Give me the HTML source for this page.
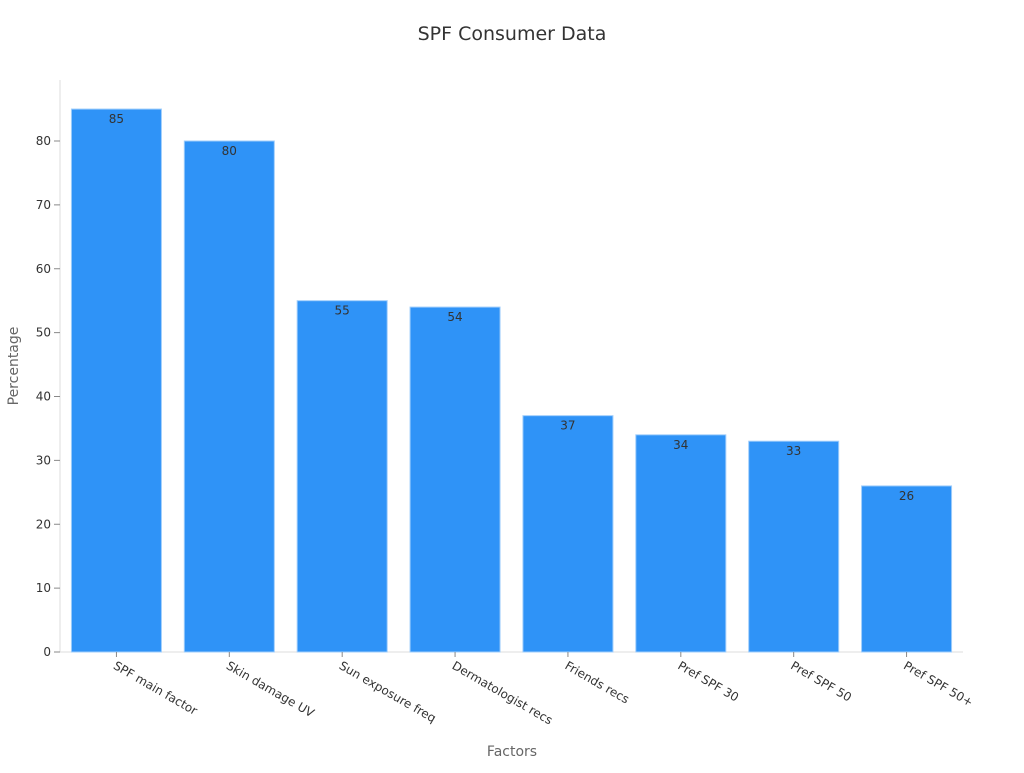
<!DOCTYPE html>
<html><head><meta charset="utf-8"><style>
body{margin:0;background:#fff;}
svg{font-family:"DejaVu Sans","Liberation Sans",sans-serif;}
</style></head><body>
<svg id="chart" width="1024" height="768">
<text x="512" y="40" text-anchor="middle" font-size="19" fill="#333">SPF Consumer Data</text>
<text x="512" y="756" text-anchor="middle" font-size="14" fill="#666">Factors</text>
<text transform="translate(18,366) rotate(-90)" text-anchor="middle" font-size="14" fill="#666">Percentage</text>
<g id="plot"></g>
</svg>
<script>
const categories=["SPF main factor","Skin damage UV","Sun exposure freq","Dermatologist recs","Friends recs","Pref SPF 30","Pref SPF 50","Pref SPF 50+"];
const values=[85,80,55,54,37,34,33,26];
const yTicks=[0,10,20,30,40,50,60,70,80];
const X0=60,X1=963,Y0=652,Ypx=6.3875;
const band=(X1-X0)/categories.length;
const y=v=>Y0-v*Ypx;
const xc=i=>X0+band*(i+0.5);
const ns="http://www.w3.org/2000/svg";
const g=document.getElementById('plot');
function mk(t,a){const e=document.createElementNS(ns,t);for(const k in a)e.setAttribute(k,a[k]);g.appendChild(e);return e;}
let ax=mk('line',{x1:X0,y1:80,x2:X0,y2:Y0,stroke:'#ddd'});


let bx=mk('line',{x1:X0,y1:Y0,x2:X1,y2:Y0,stroke:'#ddd'});


yTicks.forEach(t=>{
 const l=mk('line',{x1:X0-6,x2:X0,y1:y(t),y2:y(t),stroke:'#888'});
 
 
 const tx=mk('text',{x:X0-9,y:y(t)+4,'text-anchor':'end','font-size':12,fill:'#333'});
 tx.textContent=t;
 
 
});
categories.forEach((c,i)=>{
 const w=90,cx=xc(i);
 const r=mk('rect',{x:cx-w/2,y:y(values[i]),width:w,height:Y0-y(values[i]),fill:'#2f93f7',stroke:'#9fcdfb','stroke-width':1});
 
 
 const v=mk('text',{x:cx,y:y(values[i])+14,'text-anchor':'middle','font-size':12,fill:'#333'});
 v.textContent=values[i];
 
 
 const tk=mk('line',{x1:cx,x2:cx,y1:Y0,y2:Y0+5,stroke:'#888'});
 
 
 const lb=mk('text',{transform:`translate(${cx-4},${Y0+16}) rotate(30)`,'font-size':12,fill:'#333'});
 lb.textContent=c;
 
 
});
</script>
</body></html>
